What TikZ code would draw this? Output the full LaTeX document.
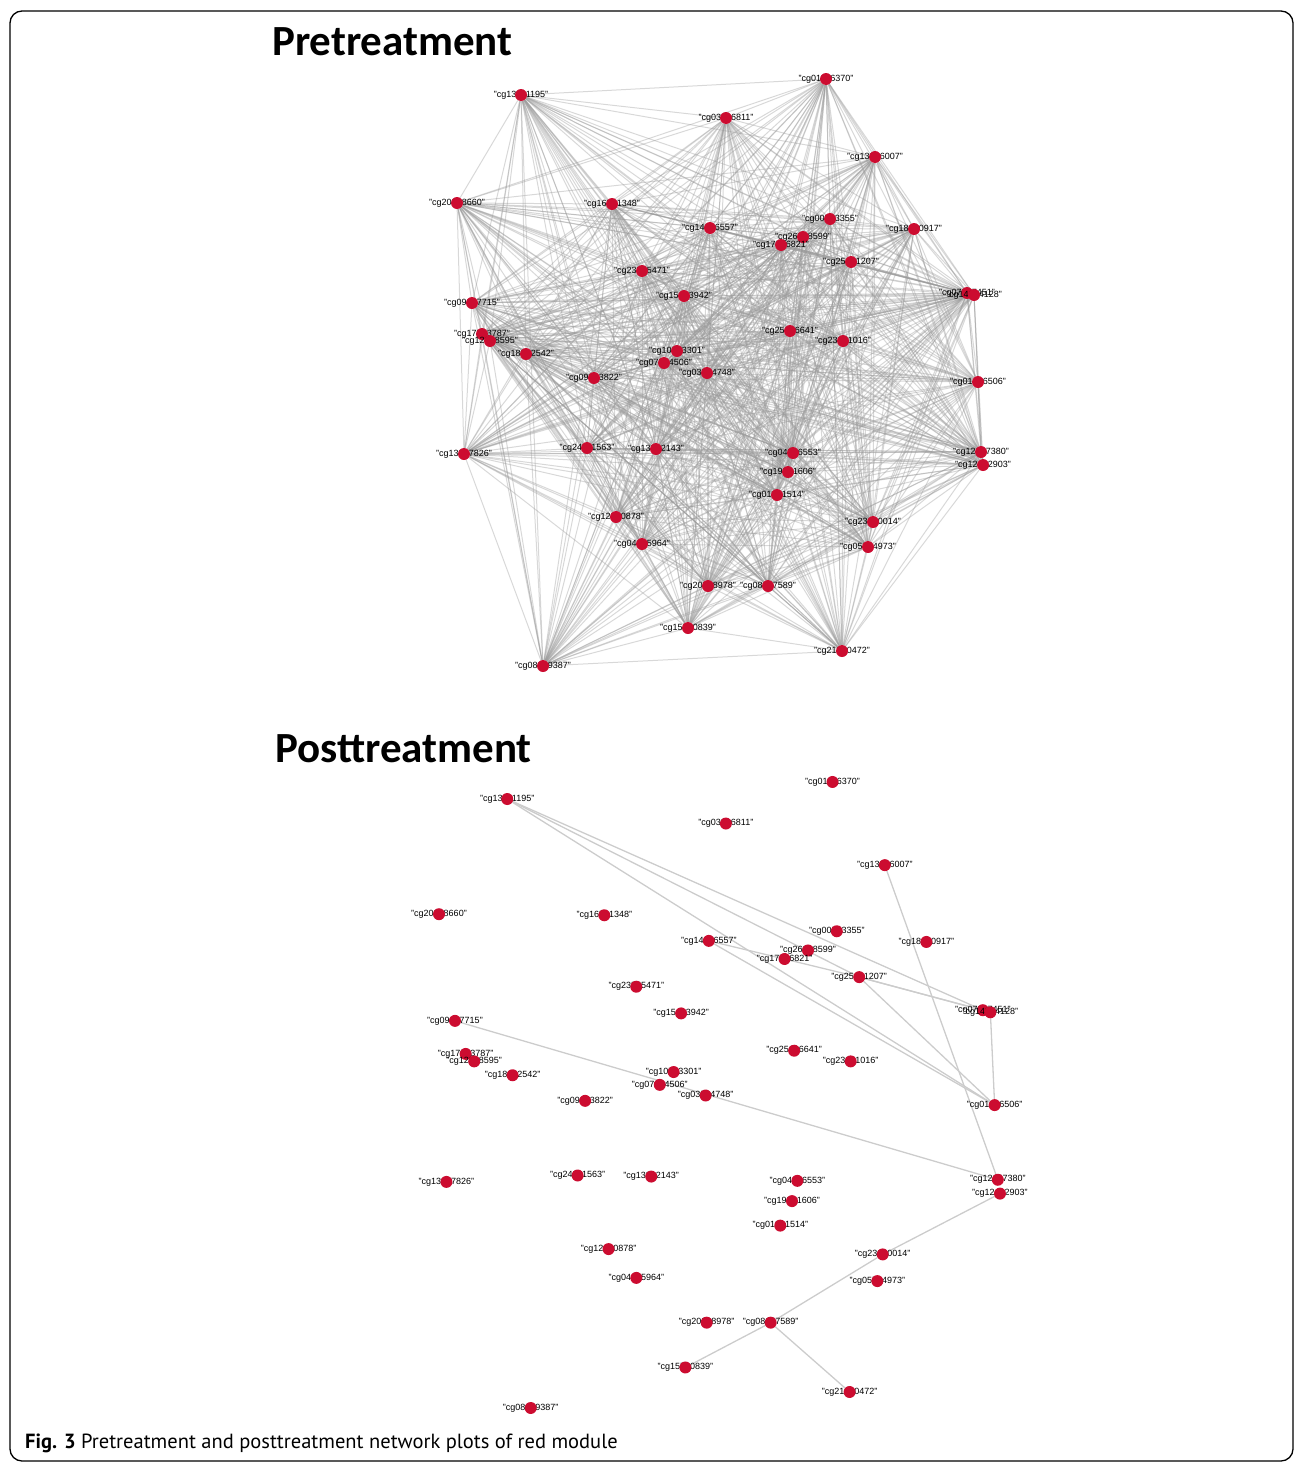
\documentclass[tikz,border=0pt]{standalone}
\usepackage{fontspec}
\setmainfont{Liberation Sans}
\newfontfamily\titlefam{Carlito}
\newfontfamily\capfam{PT Sans}
\usepackage{tikz}
\pgfdeclarelayer{back}
\pgfsetlayers{back,main}

\definecolor{modred}{RGB}{204,12,48}
\tikzset{
  dot/.style={circle, fill=modred, draw=none, minimum size=12pt, inner sep=0pt},
  lbl/.style={font=\fontsize{9}{10}\selectfont, inner sep=0pt, text=black},
  preedge/.style={draw=gray!80, line width=1pt, opacity=0.38},
  postedge/.style={draw=gray!40, line width=1.3pt},
  plottitle/.style={font=\titlefam\bfseries\fontsize{43}{50}\selectfont, anchor=base west, inner sep=0pt}
}

\def\cglist{1/13511195/521/95, 2/01156370/826/79, 3/03096811/726/118, 4/13246007/875/157,
  5/20018660/457/203, 6/16531348/612/204, 7/14636557/710/228, 8/00553355/830/219,
  9/18140917/914/229, 10/26088599/803/237, 11/17736821/781/245, 12/25441207/851/262,
  13/23555471/642/271, 14/15403942/684/296, 15/09067715/472/303, 16/07837451/967/293,
  17/14394128/974/295, 18/17513787/482/334, 19/12058595/490/341, 20/18922542/526/354,
  21/25606641/790/331, 22/23371016/843/341, 23/10793301/677/351, 24/07354506/664/363,
  25/03564748/707/373, 26/09853822/594/378, 27/01406506/978/382, 28/24811563/587/448,
  29/13332143/656/449, 30/13387826/464/454, 31/04806553/793/453, 32/12657380/981/452,
  33/12432903/983/465, 34/19861606/788/472, 35/01991514/777/495, 36/12210878/616/517,
  37/23660014/873/522, 38/04615964/642/544, 39/05754973/868/547, 40/20298978/708/586,
  41/08657589/768/586, 42/15790839/688/628, 43/21240472/842/651, 44/08079387/543/666}

\begin{document}
\begin{tikzpicture}[x=1pt, y=-1pt]
	\useasboundingbox (0,0) rectangle (1295,1462);
	\draw[line width=1.3pt, rounded corners=12pt] (10,11) rectangle (1293,1461);

	\node[plottitle] (pretitle) at (272,55) {Pretreatment};
	\node[plottitle] (posttitle) at (275,762) {Posttreatment};

	\foreach \k/\c/\x/\y in \cglist {
		\node[lbl] (ta\k) at (\x,\y) {"cg\c"};
		\node[dot] (a\k) at (\x,\y) {};
	}
	\begin{scope}[shift={(-48.4,697.7)}, scale=1.0665]
		\foreach \k/\c/\x/\y in \cglist {
			\node[lbl] (tb\k) at (\x,\y) {"cg\c"};
			\node[dot] (b\k) at (\x,\y) {};
		}
	\end{scope}

	\begin{pgfonlayer}{back}
		\foreach \i in {1,...,43} {
			\pgfmathtruncatemacro{\nx}{\i+1}
			\foreach \j in {\nx,...,44}
				\draw[preedge] (a\i) -- (a\j);
		}
		\foreach \u/\v in {1/27, 1/16, 1/12, 7/11, 11/12, 12/16, 12/17, 7/27, 12/27,
			17/27, 4/32, 15/32, 33/37, 37/41, 41/42, 41/43}
			\draw[postedge] (b\u) -- (b\v);
	\end{pgfonlayer}

	\node[anchor=base west, inner sep=0pt, font=\capfam\fontsize{20.5}{22}\selectfont] (caption) at (25,1448)
		{\textbf{Fig. 3} Pretreatment and posttreatment network plots of red module};
\end{tikzpicture}
\end{document}
